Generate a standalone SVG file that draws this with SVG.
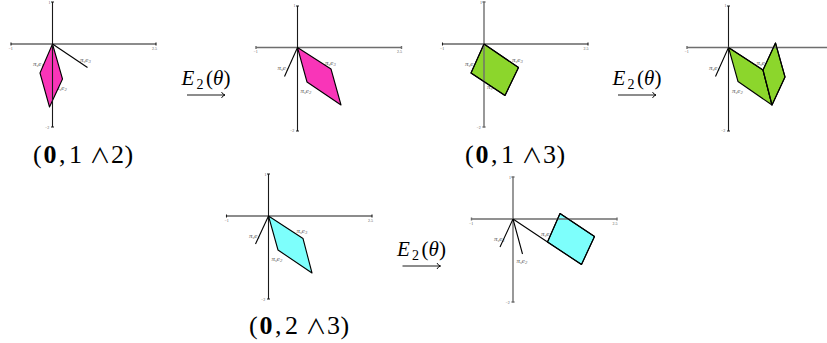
<svg xmlns="http://www.w3.org/2000/svg" width="827" height="343" viewBox="0 0 827 343">
<style>
text{font-family:"Liberation Serif",serif;fill:#000}
.d{stroke:#1a1a1a;stroke-width:1.1;fill:none}
.n{stroke:#6e6e6e;stroke-width:1.4;fill:none}
.v{stroke:#000;stroke-width:1.1;fill:none;stroke-linejoin:round}
.m{fill:#f935b8}.g{fill:#8cd62c}.c{fill:#7dfffc}
.t{font-size:4px;fill:#555}
.l{font-size:7px;font-style:italic;fill:#555}
.l tspan{font-size:4.6px}
.l tspan.b{font-size:7px}
.cap{font-size:26px}
.cap .w{font-family:"Noto Sans CJK JP","DejaVu Sans",sans-serif;font-size:21px}
.cap .z{font-weight:bold}
.op{font-size:21px}
.ar{stroke:#000;stroke-width:.9;fill:none}
</style>
<defs>
<g id="ticks">
<text class="t" x="-44" y="5.500">−1</text><text class="t" x="99.500" y="5.500">2.5</text>
<text class="t" x="-4" y="-40.500">1</text><text class="t" x="-7.500" y="84.500">−2</text>
</g>
<g id="arrow">
<text class="op"><tspan x="0" y="0" font-style="italic">E</tspan><tspan x="15" y="3.500" font-size="14">2</tspan><tspan x="24.500" y="0">(</tspan><tspan x="31.500" y="0" font-style="italic">θ</tspan><tspan x="42" y="0">)</tspan></text>
<path class="ar" d="M5.500 10H43.500M40 7Q41 9.300 43.500 10Q41 10.700 40 13"/>
</g>
</defs>
<g id="connectors">
<use href="#arrow" x="181.500" y="85"/>
<use href="#arrow" x="612.500" y="85"/>
<use href="#arrow" x="397" y="256"/>
</g>
<g id="node-a">
<use href="#ticks" x="52.500" y="44"/>
<text class="l" x="80" y="61.500">π<tspan dy="1">s</tspan><tspan class="b" dy="-1">e</tspan><tspan dy="1">3</tspan></text>
<text class="l" x="33" y="66">π<tspan dy="1">s</tspan><tspan class="b" dy="-1">e</tspan><tspan dy="1">1</tspan></text>
<text class="l" x="56" y="90">π<tspan dy="1">s</tspan><tspan class="b" dy="-1">e</tspan><tspan dy="1">2</tspan></text>
<path class="m v" d="M52.500 44L40 73L49.500 107L62.500 79Z"/>
<path class="d" d="M11 44H156M11 42.500V45.500M156 42.500V45.500M52.500 2V127M51 2H54M51 127H54"/>
<path class="v" d="M52.500 44L87.500 67.500"/>
<text class="cap" y="163"><tspan x="33">(</tspan><tspan class="z" x="43.500">0</tspan><tspan x="59">,</tspan><tspan x="69">1</tspan><tspan class="w" x="89.500">∧</tspan><tspan x="111">2</tspan><tspan x="124.500">)</tspan></text>
</g>
<g id="node-b">
<use href="#ticks" x="297.500" y="47.500"/>
<text class="l" x="277.500" y="70">π<tspan dy="1">s</tspan><tspan class="b" dy="-1">e</tspan><tspan dy="1">1</tspan></text>
<text class="l" x="325" y="64.500">π<tspan dy="1">s</tspan><tspan class="b" dy="-1">e</tspan><tspan dy="1">3</tspan></text>
<text class="l" x="300.500" y="93">π<tspan dy="1">s</tspan><tspan class="b" dy="-1">e</tspan><tspan dy="1">2</tspan></text>
<path class="n" d="M256 47.500H401.500M256 46V49M401.500 46V49"/>
<path class="d" d="M297.500 6V131M296 6H299M296 131H299"/>
<path class="m v" d="M297.500 47.500L331 69L341 105L307 82Z"/>
<path class="v" d="M297.500 47.500L284.500 76.500"/>
</g>
<g id="node-c">
<use href="#ticks" x="484" y="44"/>
<text class="l" x="512" y="61.500">π<tspan dy="1">s</tspan><tspan class="b" dy="-1">e</tspan><tspan dy="1">3</tspan></text>
<text class="l" x="465" y="66">π<tspan dy="1">s</tspan><tspan class="b" dy="-1">e</tspan><tspan dy="1">1</tspan></text>
<text class="l" x="487" y="89">π<tspan dy="1">s</tspan><tspan class="b" dy="-1">e</tspan><tspan dy="1">2</tspan></text>
<path class="g v" d="M484 44L471 73L505 95.500L518.500 67.500Z"/>
<path class="d" d="M442.500 44H588M442.500 42.500V45.500M588 42.500V45.500"/>
<path class="n" d="M484 2V127M482.500 2H485.500M482.500 127H485.500"/>
<path class="v" d="M484 44L471 73L505 95.500L518.500 67.500Z"/>
<text class="cap" y="163"><tspan x="465">(</tspan><tspan class="z" x="475.500">0</tspan><tspan x="491">,</tspan><tspan x="501">1</tspan><tspan class="w" x="521.500">∧</tspan><tspan x="543">3</tspan><tspan x="556.500">)</tspan></text>
</g>
<g id="node-d">
<text class="t" x="684.500" y="53">−1</text><text class="t" x="724.500" y="7">1</text><text class="t" x="721" y="132">−2</text>
<text class="l" x="709" y="70">π<tspan dy="1">s</tspan><tspan class="b" dy="-1">e</tspan><tspan dy="1">1</tspan></text>
<text class="l" x="756.500" y="65">π<tspan dy="1">s</tspan><tspan class="b" dy="-1">e</tspan><tspan dy="1">3</tspan></text>
<text class="l" x="732" y="93">π<tspan dy="1">s</tspan><tspan class="b" dy="-1">e</tspan><tspan dy="1">2</tspan></text>
<path class="d" d="M728.500 6V131M727 6H730M727 131H730"/>
<path class="g v" d="M728.500 47.500L738 81.500L772 105L763 70Z"/>
<path class="g v" d="M763 70L775.500 43L785 77L772 105Z"/>
<path class="n" d="M687 47.500H827M687 46V49"/>
<path class="v" d="M728.500 47.500L715.500 76.500M728.500 47.500L763 70L772 105M763 70L775.500 43L785 77L772 105"/>
</g>
<g id="node-e">
<use href="#ticks" x="268.500" y="216"/>
<text class="l" x="249" y="237.500">π<tspan dy="1">s</tspan><tspan class="b" dy="-1">e</tspan><tspan dy="1">1</tspan></text>
<text class="l" x="296.500" y="232.500">π<tspan dy="1">s</tspan><tspan class="b" dy="-1">e</tspan><tspan dy="1">3</tspan></text>
<text class="l" x="271.500" y="261">π<tspan dy="1">s</tspan><tspan class="b" dy="-1">e</tspan><tspan dy="1">2</tspan></text>
<path class="d" d="M226.500 216H372M226.500 214.500V217.500M372 214.500V217.500M268.500 174V299M267 174H270M267 299H270"/>
<path class="c v" d="M268.500 216L278 250L312 273L303 238.500Z"/>
<path class="v" d="M268.500 216L255.500 244"/>
<text class="cap" y="334"><tspan x="249">(</tspan><tspan class="z" x="259.500">0</tspan><tspan x="275">,</tspan><tspan x="285">2</tspan><tspan class="w" x="305.500">∧</tspan><tspan x="327">3</tspan><tspan x="340.500">)</tspan></text>
</g>
<g id="node-f">
<use href="#ticks" x="513" y="219"/>
<text class="l" x="494" y="241">π<tspan dy="1">s</tspan><tspan class="b" dy="-1">e</tspan><tspan dy="1">1</tspan></text>
<text class="l" x="541" y="236">π<tspan dy="1">s</tspan><tspan class="b" dy="-1">e</tspan><tspan dy="1">3</tspan></text>
<text class="l" x="516.500" y="263">π<tspan dy="1">s</tspan><tspan class="b" dy="-1">e</tspan><tspan dy="1">2</tspan></text>
<path class="c v" d="M547.500 242L560 213.500L594.500 236.500L581.500 264.500Z"/>
<path class="n" d="M471.500 219H617M471.500 217.500V220.500M617 217.500V220.500M513 177V302M511.500 177H514.500M511.500 302H514.500"/>
<path class="v" d="M513 219L500 247M513 219L522.500 254M513 219L547.500 242"/>
<path class="v" d="M547.500 242L560 213.500L594.500 236.500L581.500 264.500Z"/>
</g>
</svg>
